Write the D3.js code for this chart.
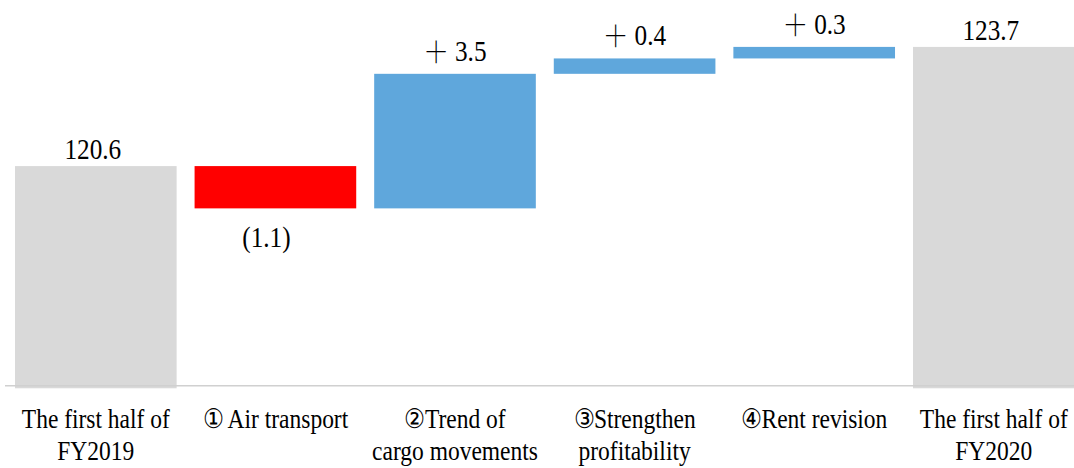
<!DOCTYPE html>
<html>
<head>
<meta charset="utf-8">
<script src="https://cdn.jsdelivr.net/npm/d3@7"></script>
</head>
<body style="margin:0">
<svg id="chart" width="1074" height="468"></svg>
<script>
// ---- data ----
const categories = [
  "The first half of\nFY2019",
  "① Air transport",
  "②Trend of\ncargo movements",
  "③Strengthen\nprofitability",
  "④Rent revision",
  "The first half of\nFY2020"
];
const startValue = 120.6;
const deltas = [-1.1, 3.5, 0.4, 0.3];
const endValue = 123.7;
const axisMin = 114.82;
const axisMax = 124.92;

// ---- build waterfall rows ----
const rows = [];
rows.push({ cat: categories[0], type: "total", lo: axisMin, hi: startValue, value: startValue });
let run = startValue;
deltas.forEach((d, i) => {
  const next = +(run + d).toFixed(2);
  rows.push({ cat: categories[i + 1], type: d < 0 ? "dec" : "inc", lo: Math.min(run, next), hi: Math.max(run, next), value: d });
  run = next;
});
rows.push({ cat: categories[5], type: "total", lo: axisMin, hi: endValue, value: endValue });

const fmt = d3.format(".1f");
function labelText(r) {
  if (r.type === "total") return fmt(r.value);
  if (r.type === "dec") return "(" + fmt(Math.abs(r.value)) + ")";
  return " " + fmt(r.value);
}
const colors = { total: "#d9d9d9", dec: "#ff0000", inc: "#5fa7dc" };
const serif = "Liberation Serif";
const cjkSerif = "Noto Serif CJK JP, Noto Serif CJK SC, Noto Sans CJK JP";

// ---- scales ----
const svg = d3.select("#chart").attr("font-family", serif);
const x = d3.scaleBand().domain(categories).range([6, 1083.6]).paddingInner(0.1).paddingOuter(0.05);
const y = d3.scaleLinear().domain([axisMin, axisMax]).range([388.3, 0]);
const squeeze = 0.87;

// ---- bars ----
svg.append("g").selectAll("rect").data(rows).join("rect")
  .attr("x", d => x(d.cat))
  .attr("width", x.bandwidth())
  .attr("y", d => y(d.hi))
  .attr("height", d => y(d.lo) - y(d.hi))
  .attr("fill", d => colors[d.type]);

// ---- x axis ----
const axisY = 385.7;
const xAxis = d3.axisBottom(x).tickSize(0).tickSizeOuter(0).tickFormat(() => "");
const ax = svg.append("g").attr("transform", `translate(0,${axisY})`).call(xAxis);
ax.attr("font-family", serif).attr("font-size", 27);
ax.select(".domain").attr("stroke", "#d0d0d0").attr("stroke-width", 1.5).attr("d", "M5,0H1074");
ax.selectAll(".tick text").remove();
ax.selectAll(".tick").each(function(d) {
  const lines = d.split("\n");
  const t = d3.select(this).append("text")
    .attr("text-anchor", "middle")
    .attr("font-family", serif)
    .attr("font-size", 27)
    .attr("fill", "#000")
    .attr("transform", `scale(${squeeze},1)`);
  lines.forEach((ln, i) => {
    t.append("tspan").attr("x", 0).attr("y", 42.6 + i * 31.7).text(ln);
  });
});

// ---- value labels ----
const lab = svg.append("g").selectAll("g").data(rows).join("g")
  .attr("transform", d => {
    const cx = x(d.cat) + x.bandwidth() / 2;
    let yy, dx = 0;
    if (d.type === "total") { yy = y(d.hi) - 7; dx = -3; }
    else if (d.type === "dec") { yy = y(d.lo) + 39; dx = -9; }
    else { yy = y(d.hi) - 13; }
    return `translate(${cx + dx},${yy})`;
  });
const lt = lab.append("text")
  .attr("text-anchor", "middle")
  .attr("font-family", serif)
  .attr("font-size", 29)
  .attr("fill", "#000")
  .attr("transform", `scale(${squeeze},1)`);
lt.filter(d => d.type === "inc").append("tspan")
  .attr("font-family", cjkSerif)
  .attr("dy", 2)
  .text("＋");
lt.append("tspan")
  .attr("dy", d => d.type === "inc" ? -2 : 0)
  .text(d => labelText(d));
</script>
</body>
</html>
